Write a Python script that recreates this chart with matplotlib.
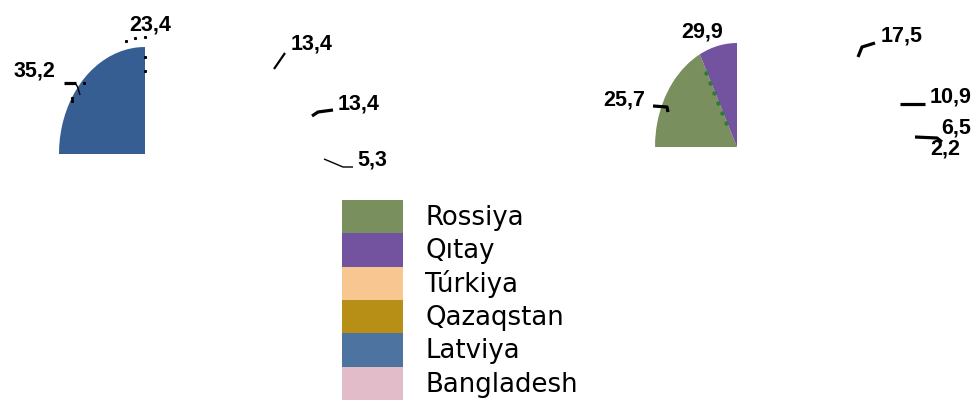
import matplotlib
matplotlib.use("Agg")
import matplotlib.pyplot as plt
from matplotlib.patches import Patch, Rectangle
from matplotlib.lines import Line2D

# countries in legend order
countries = ["Rossiya", "Qıtay", "Túrkiya", "Qazaqstan", "Latviya", "Bangladesh"]
legend_colors = ["#7A8F5E", "#7352A0", "#F8C690", "#B88F16", "#4D73A0", "#E2BCC8"]
pie_colors = ["#7A8F5E", "#7352A0", "#F8C690", "#B88F16", "#375E92", "#E2BCC8"]

# left pie (Bangladesh value not shown)
left_values = [23.4, 13.4, 13.4, 5.3, 35.2]
# right pie
right_values = [25.7, 29.9, 17.5, 10.9, 6.5, 2.2]

W, H = 976, 401
fig = plt.figure(figsize=(W / 100, H / 100), dpi=100)


def px(x, y):
    """pixel position -> figure fraction"""
    return x / W, 1 - y / H


def draw_pie(rect, values, colors, start):
    ax = fig.add_axes(rect)
    wedges, _ = ax.pie(values, colors=colors, startangle=start, counterclock=False,
                       radius=1, center=(0, 0), wedgeprops={"linewidth": 0})
    ax.set_aspect("auto")
    ax.set_xlim(-1, 1)
    ax.set_ylim(-1, 1)
    ax.axis("off")
    # only the upper-left quarter of the pie is drawn
    clip = Rectangle((-1.1, 0), 1.1, 1.1, transform=ax.transData)
    for w in wedges:
        w.set_clip_on(True)
        w.set_clip_path(clip)
    return ax


draw_pie([59 / W, 1 - 261 / H, 172 / W, 214 / H], left_values, pie_colors[:5], 420)
draw_pie([655 / W, 1 - 251 / H, 164 / W, 208 / H], right_values, pie_colors, 216.8)

# data labels
left_labels = ["23,4", "35,2", "13,4", "13,4", "5,3"]
left_pos = [(150, 25), (34, 71), (312, 44), (359, 104), (372, 160)]
right_labels = ["29,9", "25,7", "17,5", "10,9", "6,5", "2,2"]
right_pos = [(702, 32), (624, 100), (902, 36), (951, 97), (956, 128), (945, 149)]

for txt, (x, y) in zip(left_labels + right_labels, left_pos + right_pos):
    fig.text(*px(x, y), txt, ha="center", va="center", fontsize=15.5,
             fontweight="bold", family="Liberation Sans")

# leader lines
leaders = [
    ([(64, 83), (76, 83)], 2.3),
    ([(76, 84), (78, 88), (80, 95)], 1.0),
    ([(274, 69), (285, 53)], 1.6),
    ([(312, 116), (318, 112), (333, 110)], 2.3),
    ([(324, 159), (343, 167), (353, 167)], 1.0),
    ([(653, 106), (667, 107), (668, 112)], 2.3),
    ([(858, 57), (862, 47), (875, 43)], 2.3),
    ([(900, 104), (925, 104)], 2.3),
    ([(915, 137), (937, 138), (942, 142)], 2.3),
]
for pts, lw in leaders:
    xs = [px(x, y)[0] for x, y in pts]
    ys = [px(x, y)[1] for x, y in pts]
    fig.add_artist(Line2D(xs, ys, transform=fig.transFigure, color="black", lw=lw,
                          solid_capstyle="butt"))

# leftover dotted bits around the pies
dots = [(126, 41), (135, 38), (145, 37), (145, 57), (145, 71), (84, 83), (72, 98), (72, 101)]
fig.add_artist(Line2D([px(x, y)[0] for x, y in dots], [px(x, y)[1] for x, y in dots],
                      transform=fig.transFigure, color="black", ls="none",
                      marker="s", markersize=1.2))
seam = [(706, 73), (710, 83), (714, 93), (718, 103), (722, 113), (726, 123)]
fig.add_artist(Line2D([px(x, y)[0] for x, y in seam], [px(x, y)[1] for x, y in seam],
                      transform=fig.transFigure, color="#2F7A3A", ls="none",
                      marker="o", markersize=2.2))

handles = [Patch(facecolor=c, edgecolor="none") for c in legend_colors]
fig.legend(handles, countries, loc="upper left", bbox_to_anchor=px(342, 200),
           frameon=False, borderpad=0, borderaxespad=0, labelspacing=0,
           handlelength=2.35, handleheight=1.596, handletextpad=0.85,
           prop={"family": "DejaVu Sans", "size": 18.7})

fig.savefig("out.png", dpi=100)
